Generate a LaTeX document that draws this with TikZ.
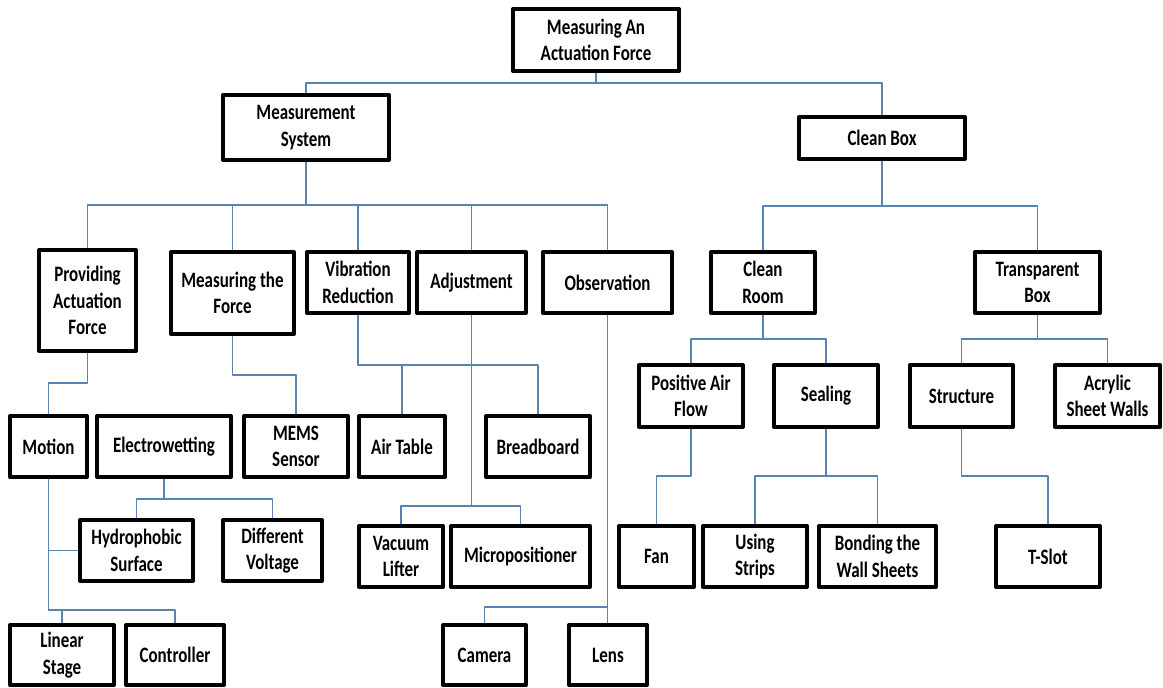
\documentclass[tikz,border=0pt]{standalone}
\usepackage{fontspec}
\setmainfont{Carlito}[FakeStretch=0.77]
\definecolor{linkblue}{RGB}{88,132,178}
\begin{document}
\begin{tikzpicture}[x=0.5pt,y=-0.5pt, line join=round,
  box/.style={draw, line width=2pt, align=center, inner sep=0pt,
    font=\fontsize{11pt}{13.25pt}\selectfont\bfseries},
  wh/.style 2 args={minimum width=#1*0.5pt-2pt, minimum height=#2*0.5pt-2pt},
  link/.style={draw=linkblue, line width=0.65pt}]
\useasboundingbox (0,0) rectangle (1163,687);
% level 0 and 1
\node[box,wh={170}{66}] (root) at (596,40) {Measuring An\\Actuation Force};
\node[box,wh={170}{69}] (msys) at (306,127.5) {Measurement\\System};
\node[box,wh={170}{46}] (cbox) at (882,138) {Clean Box};
% level 2
\node[box,wh={101}{105}] (prov) at (87.5,300.5) {Providing\\Actuation\\Force};
\node[box,wh={127}{86}] (mforce) at (232.5,293) {Measuring the\\Force};
\node[box,wh={106}{65}] (vibr) at (358,282.5) {Vibration\\Reduction};
\node[box,wh={113}{65}] (adjm) at (471.5,282.5) {Adjustment};
\node[box,wh={133}{65}] (obsv) at (607.5,282.5) {Observation};
\node[box,wh={108}{65}] (croom) at (763,282.5) {Clean\\Room};
\node[box,wh={129}{65}] (tbox) at (1037.5,282.5) {Transparent\\Box};
% level 3
\node[box,wh={108}{66}] (pair) at (691,396) {Positive Air\\Flow};
\node[box,wh={108}{66}] (seal) at (826,396) {Sealing};
\node[box,wh={107}{66}] (strc) at (961.5,396) {Structure};
\node[box,wh={109}{66}] (acryl) at (1107.5,396) {Acrylic\\Sheet Walls};
\node[box,wh={81}{65}] (motn) at (48.5,446.5) {Motion};
\node[box,wh={138}{65}] (ewet) at (164,446.5) {Electrowetting};
\node[box,wh={108}{65}] (mems) at (296,446.5) {MEMS\\Sensor};
\node[box,wh={90}{65}] (atab) at (402,446.5) {Air Table};
\node[box,wh={108}{65}] (bread) at (538,446.5) {Breadboard};
% level 4
\node[box,wh={117}{65}] (hydro) at (136.5,550.5) {Hydrophobic\\Surface};
\node[box,wh={103}{65}] (dvolt) at (272.5,550.5) {Different\\Voltage};
\node[box,wh={88}{65}] (vac) at (401,556.5) {Vacuum\\Lifter};
\node[box,wh={143}{65}] (micro) at (520.5,556.5) {Micropositioner};
\node[box,wh={79}{65}] (fan) at (656.5,556.5) {Fan};
\node[box,wh={108}{65}] (strip) at (755,556.5) {Using\\Strips};
\node[box,wh={121}{65}] (bond) at (877.5,556.5) {Bonding the\\Wall Sheets};
\node[box,wh={108}{65}] (tslot) at (1048,556.5) {T-Slot};
% level 5
\node[box,wh={108}{64}] (lstage) at (62,655) {Linear\\Stage};
\node[box,wh={102}{64}] (ctrl) at (175,655) {Controller};
\node[box,wh={87}{64}] (cam) at (484.5,655) {Camera};
\node[box,wh={82}{64}] (lens) at (608,655) {Lens};
% connectors
\foreach \c in {msys,cbox} \draw[link] (root.south) -- ++(0,10) -| (\c.north);
\foreach \c in {prov,mforce,vibr,adjm,obsv} \draw[link] (msys.south) -- ++(0,43) -| (\c.north);
\foreach \c in {croom,tbox} \draw[link] (cbox.south) -- ++(0,45) -| (\c.north);
\draw[link] (prov.south) -- ++(0,30) -| (motn.north);
\draw[link] (mforce.south) -- ++(0,39) -| (mems.north);
\foreach \c in {atab,bread} \draw[link] (vibr.south) -- ++(0,50) -| (\c.north);
\foreach \c in {vac,micro} \draw[link] (adjm.south) -- ++(0,191) -| (\c.north);
\draw[link] (obsv.south) -- (obsv.south |- lens.north);
\draw[link] (obsv.south) ++(0,292) -| (cam.north);
\foreach \c in {pair,seal} \draw[link] (croom.south) -- ++(0,24) -| (\c.north);
\foreach \c in {strc,acryl} \draw[link] (tbox.south) -- ++(0,24) -| (\c.north);
\foreach \c in {hydro,dvolt} \draw[link] (ewet.south) -- ++(0,20) -| (\c.north);
\foreach \c in {lstage,ctrl} \draw[link] (motn.south) -- ++(0,131) -| (\c.north);
\draw[link] (motn.south |- hydro.west) -- (hydro.west);
\draw[link] (pair.south) -- ++(0,47) -| (fan.north);
\foreach \c in {strip,bond} \draw[link] (seal.south) -- ++(0,47) -| (\c.north);
\draw[link] (strc.south) -- ++(0,47) -| (tslot.north);
\end{tikzpicture}
\end{document}
